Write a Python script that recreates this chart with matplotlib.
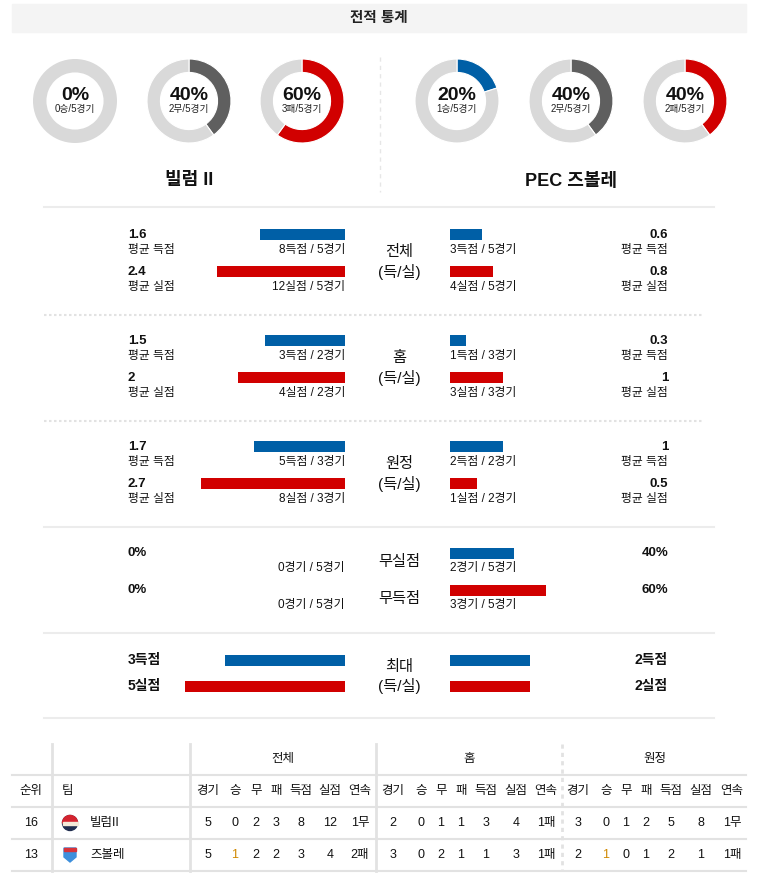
# -*- coding: utf-8 -*-
import numpy as np
import matplotlib
matplotlib.use("Agg")
import matplotlib.pyplot as plt
from matplotlib.patches import Rectangle, Circle, Wedge, Polygon

plt.rcParams['font.family'] = ['Liberation Sans', 'Noto Sans CJK KR', 'DejaVu Sans']

W, H = 759, 883

# ---- donnees ----
team_left = "빌럼 II"
team_right = "PEC 즈볼레"

donut_left = [0, 40, 60]
donut_left_txt = ["0승/5경기", "2무/5경기", "3패/5경기"]
donut_right = [20, 40, 40]
donut_right_txt = ["1승/5경기", "2무/5경기", "2패/5경기"]

sections = ["전체", "홈", "원정"]
left_for = [1.6, 1.5, 1.7]
left_for_txt = ["8득점 / 5경기", "3득점 / 2경기", "5득점 / 3경기"]
left_against = [2.4, 2, 2.7]
left_against_txt = ["12실점 / 5경기", "4실점 / 2경기", "8실점 / 3경기"]
right_for = [0.6, 0.3, 1]
right_for_txt = ["3득점 / 5경기", "1득점 / 3경기", "2득점 / 2경기"]
right_against = [0.8, 1, 0.5]
right_against_txt = ["4실점 / 5경기", "3실점 / 3경기", "1실점 / 2경기"]

clean_left = [0, 0]
clean_left_txt = ["0경기 / 5경기", "0경기 / 5경기"]
clean_right = [40, 60]
clean_right_txt = ["2경기 / 5경기", "3경기 / 5경기"]
clean_names = ["무실점", "무득점"]

max_left = [3, 5]
max_right = [2, 2]

ranks = [16, 13]
teams = ["빌럼II", "즈볼레"]
tab_groups = ["전체", "홈", "원정"]
tab_cols = ["경기", "승", "무", "패", "득점", "실점", "연속"]
tab_total = [[5, 0, 2, 3, 8, 12, "1무"], [5, 1, 2, 2, 3, 4, "2패"]]
tab_home = [[2, 0, 1, 1, 3, 4, "1패"], [3, 0, 2, 1, 1, 3, "1패"]]
tab_away = [[3, 0, 1, 2, 5, 8, "1무"], [2, 1, 0, 1, 2, 1, "1패"]]

BLUE = "#005fa6"
RED = "#d10000"
DARK = "#5f5f5f"
LIGHT = "#d9d9d9"
LINE = "#e6e6e6"
TXT = "#111111"

fig = plt.figure(figsize=(W / 100, H / 100), dpi=100)
ax = fig.add_axes([0, 0, 1, 1])
ax.set_xlim(0, W)
ax.set_ylim(H, 0)
ax.axis("off")


def px_axes(x0, y0, w, h):
    a = fig.add_axes([x0 / W, 1 - (y0 + h) / H, w / W, h / H])
    a.axis("off")
    return a


# titre
ax.add_patch(Rectangle((12, 4), 734, 28, color="#f4f4f4", zorder=0))
ax.text(379, 18, "전적 통계", ha="center", va="center", fontsize=10.5, fontweight="bold", color="#222222")

# donuts
def donut(cx, cy, pct, col, txt):
    a = px_axes(cx - 42, cy - 42, 84, 84)
    a.pie([pct, 100 - pct], colors=[col, LIGHT], startangle=90, counterclock=False,
          wedgeprops=dict(width=0.32, edgecolor="white", linewidth=0.8 if pct > 0 else 0))
    a.set_xlim(-1, 1)
    a.set_ylim(-1, 1)
    a.set_aspect("equal")
    ax.text(cx, cy - 5, str(pct) + "%", ha="center", va="center", fontsize=14, fontweight="bold", color=TXT)
    ax.text(cx, cy + 8, txt, ha="center", va="center", fontsize=7, color="#222222")

cols3 = [BLUE, DARK, RED]
for i, cx in enumerate([75, 189, 302]):
    donut(cx, 101, donut_left[i], cols3[i], donut_left_txt[i])
for i, cx in enumerate([457, 571, 685]):
    donut(cx, 101, donut_right[i], cols3[i], donut_right_txt[i])

ax.plot([380, 380], [57, 192], color=LINE, lw=1, ls=(0, (3, 3)))
ax.text(189, 181, team_left, ha="center", va="center", fontsize=13, fontweight="bold", color=TXT)
ax.text(571, 181, team_right, ha="center", va="center", fontsize=13, fontweight="bold", color=TXT)

# barres
def bar(side, y, val, vmax, col):
    if side == "L":
        a = px_axes(185, y, 160, 11)
        a.set_xlim(vmax, 0)
    else:
        a = px_axes(450, y, 160, 11)
        a.set_xlim(0, vmax)
    a.barh(0, val, height=1, color=col)
    a.set_ylim(-0.5, 0.5)

ax.plot([44, 714], [207, 207], color="#ececec", lw=1.5)
for k, name in enumerate(sections):
    y0 = 229 + 106 * k
    bar("L", y0, left_for[k], 3, BLUE)
    bar("L", y0 + 37, left_against[k], 3, RED)
    bar("R", y0, right_for[k], 3, BLUE)
    bar("R", y0 + 37, right_against[k], 3, RED)
    ax.text(128, y0 + 6, str(left_for[k]), ha="left", va="center", fontsize=9.5, fontweight="bold", color=TXT)
    ax.text(128, y0 + 21, "평균 득점", ha="left", va="center", fontsize=8.5, color=TXT)
    ax.text(345, y0 + 21, left_for_txt[k], ha="right", va="center", fontsize=8.5, color=TXT)
    ax.text(128, y0 + 43, str(left_against[k]), ha="left", va="center", fontsize=9.5, fontweight="bold", color=TXT)
    ax.text(128, y0 + 58, "평균 실점", ha="left", va="center", fontsize=8.5, color=TXT)
    ax.text(345, y0 + 58, left_against_txt[k], ha="right", va="center", fontsize=8.5, color=TXT)
    ax.text(668, y0 + 6, str(right_for[k]), ha="right", va="center", fontsize=9.5, fontweight="bold", color=TXT)
    ax.text(668, y0 + 21, "평균 득점", ha="right", va="center", fontsize=8.5, color=TXT)
    ax.text(450, y0 + 21, right_for_txt[k], ha="left", va="center", fontsize=8.5, color=TXT)
    ax.text(668, y0 + 43, str(right_against[k]), ha="right", va="center", fontsize=9.5, fontweight="bold", color=TXT)
    ax.text(668, y0 + 58, "평균 실점", ha="right", va="center", fontsize=8.5, color=TXT)
    ax.text(450, y0 + 58, right_against_txt[k], ha="left", va="center", fontsize=8.5, color=TXT)
    ax.text(399, y0 + 23, name, ha="center", va="center", fontsize=11, color=TXT)
    ax.text(399, y0 + 43, "(득/실)", ha="center", va="center", fontsize=11, color=TXT)
    if k < 2:
        ax.plot([44, 703], [y0 + 86, y0 + 86], color="#e2e2e2", lw=1.5, ls=(0, (1.2, 1.2)))

ax.plot([44, 714], [527, 527], color="#ececec", lw=1.5)

# clean sheets
for j in range(2):
    y0 = 548 + 37 * j
    col = BLUE if j == 0 else RED
    bar("L", y0, clean_left[j], 100, col)
    bar("R", y0, clean_right[j], 100, col)
    ax.text(128, y0 + 5, str(clean_left[j]) + "%", ha="left", va="center", fontsize=9.5, fontweight="bold", color=TXT)
    ax.text(345, y0 + 20, clean_left_txt[j], ha="right", va="center", fontsize=8.5, color=TXT)
    ax.text(668, y0 + 5, str(clean_right[j]) + "%", ha="right", va="center", fontsize=9.5, fontweight="bold", color=TXT)
    ax.text(450, y0 + 20, clean_right_txt[j], ha="left", va="center", fontsize=8.5, color=TXT)
    ax.text(399, y0 + 14, clean_names[j], ha="center", va="center", fontsize=11, color=TXT)

ax.plot([44, 714], [633, 633], color="#ececec", lw=1.5)

# maximum
for j in range(2):
    y0 = 655 + 26 * j
    col = BLUE if j == 0 else RED
    suf = "득점" if j == 0 else "실점"
    bar("L", y0, max_left[j], 4, col)
    bar("R", y0, max_right[j], 4, col)
    ax.text(128, y0 + 5, str(max_left[j]) + suf, ha="left", va="center", fontsize=10, fontweight="bold", color=TXT)
    ax.text(668, y0 + 5, str(max_right[j]) + suf, ha="right", va="center", fontsize=10, fontweight="bold", color=TXT)
ax.text(399, 667, "최대", ha="center", va="center", fontsize=11, color=TXT)
ax.text(399, 686, "(득/실)", ha="center", va="center", fontsize=11, color=TXT)

ax.plot([44, 714], [718, 718], color="#ececec", lw=1.5)

# tableau
TL = "#e2e2e2"
for yl in [775, 807, 839, 871]:
    ax.plot([12, 746], [yl, yl], color=TL, lw=1.5)
for xl in [52, 190, 376]:
    ax.plot([xl, xl], [744, 871], color=TL, lw=2)
ax.plot([562, 562], [744, 871], color=TL, lw=2, ls=(0, (1.5, 1.5)))

grp_x = [283, 469, 655]
col_x = [[208, 235, 256, 276, 301, 330, 360],
         [393, 421, 441, 461, 486, 516, 546],
         [578, 606, 626, 646, 671, 701, 732]]
for g, name in enumerate(tab_groups):
    ax.text(grp_x[g], 759, name, ha="center", va="center", fontsize=9, color=TXT)
    for c, cn in enumerate(tab_cols):
        ax.text(col_x[g][c], 791, cn, ha="center", va="center", fontsize=9, color=TXT)
ax.text(31, 791, "순위", ha="center", va="center", fontsize=9, color=TXT)
ax.text(62, 791, "팀", ha="left", va="center", fontsize=9, color=TXT)

row_y = [823, 855]
for r in range(2):
    ax.text(31, row_y[r], str(ranks[r]), ha="center", va="center", fontsize=9, color=TXT)
    ax.text(90, row_y[r], teams[r], ha="left", va="center", fontsize=9, color=TXT)
    for g, tab in enumerate([tab_total, tab_home, tab_away]):
        for c, v in enumerate(tab[r]):
            colr = "#d08800" if (c == 1 and v > 0) else TXT
            ax.text(col_x[g][c], row_y[r], str(v), ha="center", va="center", fontsize=9, color=colr)

# logos
ax.add_patch(Circle((70, 823), 7.5, color="#1f2d4e"))
ax.add_patch(Wedge((70, 823), 7.5, 180, 360, color="#d4232f"))
ax.add_patch(Rectangle((62.5, 821.5), 15, 3.5, color="#f3e9d8"))
ax.add_patch(Polygon([[64, 848], [76, 848], [76, 857], [70, 862], [64, 857]], closed=True, color="#3d8fdc"))
ax.add_patch(Rectangle((64, 848), 12, 2.5, color="#d8333a"))

plt.savefig("out.png", dpi=100)
